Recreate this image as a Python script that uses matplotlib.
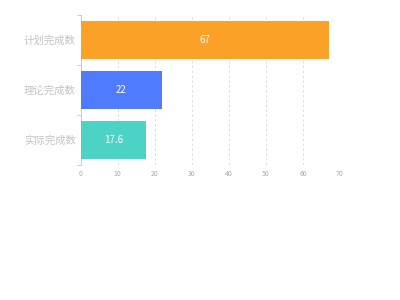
import numpy as np
import matplotlib.pyplot as plt

plt.rcParams['font.family'] = ['Noto Sans CJK SC', 'DejaVu Sans']

categories = ["计划完成数", "理论完成数", "实际完成数"]
values = [67, 22, 17.6]
colors = ["#FBA128", "#4E7BFF", "#4CD3C5"]
xticks = [0, 10, 20, 30, 40, 50, 60, 70]

fig = plt.figure(figsize=(4, 3), dpi=100)
ax = fig.add_axes([0.2018, 0.45, 0.6482, 0.5])

ypos = np.arange(len(categories))
bars = ax.barh(ypos, values, height=0.76, color=colors, zorder=3)
for b, v in zip(bars, values):
    ax.text(v / 2, b.get_y() + b.get_height() / 2, f"{v:g}", color="white",
            ha="center", va="center", fontsize=7, zorder=4)

ax.set_xlim(0, 70)
ax.set_ylim(len(categories) - 0.5, -0.5)
ax.set_xticks(xticks)
ax.set_xticklabels([str(t) for t in xticks], fontsize=5, color="#aaaaaa")
ax.tick_params(axis="x", length=0, pad=3.5)
ax.grid(axis="x", color="#dddddd", ls=(0, (2.5, 2.5)), lw=0.7, zorder=0)

# y axis: category labels, tick marks at the band boundaries
ax.set_yticks(ypos)
ax.set_yticklabels(categories, fontsize=7.5, color="#c4c4c4")
ax.tick_params(axis="y", length=0, pad=3.5)
ax.set_yticks(np.arange(-0.5, len(categories), 1), minor=True)
ax.tick_params(axis="y", which="minor", length=3, color="#cccccc", width=0.7)

for s in ["top", "right", "bottom"]:
    ax.spines[s].set_visible(False)
ax.spines["left"].set_color("#cccccc")
ax.spines["left"].set_linewidth(0.7)

plt.savefig("out.png", dpi=100)
